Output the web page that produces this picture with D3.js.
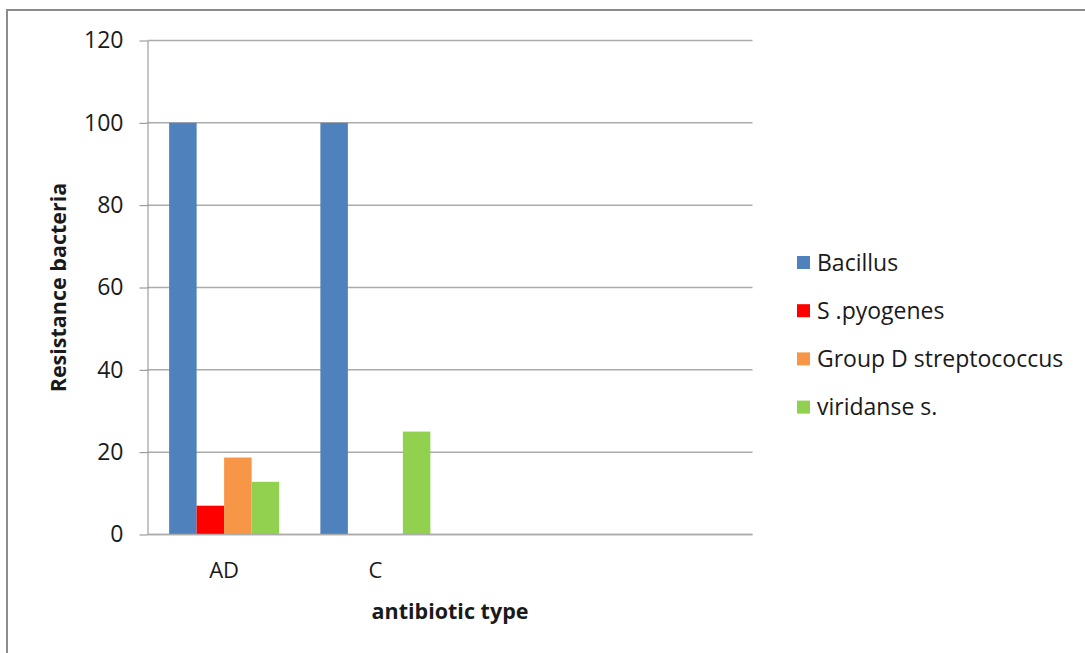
<!DOCTYPE html>
<html>
<head>
<meta charset="utf-8">
<script src="https://cdn.jsdelivr.net/npm/d3@7"></script>
<style>
  html, body { margin: 0; padding: 0; background: #fff; }
  svg { display: block; }
  text { font-family: "Open Sans", "Noto Sans", sans-serif; fill: #1a1a1a; }
</style>
</head>
<body>
<svg id="chart" width="1085" height="653"></svg>
<script>
// Antibiotic categories (the last two slots are empty)
const categories = ["AD", "C", "", ""];
const seriesNames = ["Bacillus", "S .pyogenes", "Group D streptococcus", "viridanse s."];
const seriesColors = ["#4F81BD", "#FF0000", "#F79646", "#92D050"];
// Resistance values per series, one entry per category (null = no bar)
const bacillus = [100, 100, null, null];
const sPyogenes = [7, null, null, null];
const groupD = [18.7, null, null, null];
const viridanse = [12.8, 25, null, null];
const yTicks = [0, 20, 40, 60, 80, 100, 120];

const seriesValues = [bacillus, sPyogenes, groupD, viridanse];

const svg = d3.select("#chart");
const plot = { left: 147.5, right: 752.5, top: 40.5, bottom: 534.5 };

// Outer frame (only top and left edges fall inside the page)
svg.append("rect")
  .attr("x", 7).attr("y", 10)
  .attr("width", 1200).attr("height", 800)
  .attr("fill", "none")
  .attr("stroke", "#8c8c8c")
  .attr("stroke-width", 2);

const x = d3.scaleBand()
  .domain(d3.range(categories.length))
  .range([plot.left, plot.right])
  .paddingInner(0.2727)
  .paddingOuter(0.13635);

const y = d3.scaleLinear().domain([0, 120]).range([plot.bottom, plot.top]);

// Horizontal gridlines
svg.append("g")
  .selectAll("line")
  .data(yTicks)
  .join("line")
  .attr("x1", plot.left).attr("x2", plot.right)
  .attr("y1", d => y(d)).attr("y2", d => y(d))
  .attr("stroke", "#ababab")
  .attr("stroke-width", 1.5);

// Grouped bars
const x1 = d3.scaleBand()
  .domain(d3.range(seriesNames.length))
  .range([0, x.bandwidth()]);

const groups = svg.append("g")
  .selectAll("g")
  .data(categories.map((c, i) => i))
  .join("g")
  .attr("transform", i => `translate(${x(i) + 1},0)`);

groups.selectAll("rect")
  .data(i => seriesValues.map((s, k) => ({ k, v: s[i] })).filter(d => d.v != null))
  .join("rect")
  .attr("x", d => x1(d.k))
  .attr("width", x1.bandwidth())
  .attr("y", d => y(d.v))
  .attr("height", d => y(0) - y(d.v))
  .attr("fill", d => seriesColors[d.k]);

// Y axis
const yAxis = svg.append("g")
  .attr("transform", `translate(${plot.left},0)`)
  .call(d3.axisLeft(y).tickValues(yTicks).tickSize(8).tickPadding(16).tickSizeOuter(0));
yAxis.select(".domain").attr("stroke", "#8a8a8a");
yAxis.selectAll(".tick line").attr("stroke", "#8a8a8a");
yAxis.selectAll(".tick text")
  .attr("font-size", "23px")
  .attr("font-family", "'Open Sans', sans-serif")
  .attr("fill", "#1a1a1a")
  .attr("dy", "0.32em");

// Baseline
svg.append("line")
  .attr("x1", plot.left).attr("x2", plot.right)
  .attr("y1", y(0)).attr("y2", y(0))
  .attr("stroke", "#ababab").attr("stroke-width", 1.7);

// Category labels
svg.append("g")
  .selectAll("text")
  .data(categories.map((c, i) => ({ c, i })))
  .join("text")
  .attr("x", d => x(d.i) + 1 + x.bandwidth() / 2)
  .attr("y", 577.5)
  .attr("text-anchor", "middle")
  .attr("font-size", "22px")
  .text(d => d.c);

// Axis titles
svg.append("text")
  .attr("x", (plot.left + plot.right) / 2)
  .attr("y", 619)
  .attr("text-anchor", "middle")
  .attr("font-size", "21.5px")
  .attr("font-weight", "bold")
  .text("antibiotic type");

svg.append("text")
  .attr("transform", `translate(66,${(plot.top + plot.bottom) / 2}) rotate(-90)`)
  .attr("text-anchor", "middle")
  .attr("font-size", "21.5px")
  .attr("font-weight", "bold")
  .text("Resistance bacteria");

// Legend
const legend = svg.append("g")
  .selectAll("g")
  .data(seriesNames.map((n, k) => ({ n, k })))
  .join("g")
  .attr("transform", d => `translate(797,${263 + d.k * 48.2})`);

legend.append("rect")
  .attr("x", 0).attr("y", -7)
  .attr("width", 13).attr("height", 13)
  .attr("fill", d => seriesColors[d.k]);

legend.append("text")
  .attr("x", 20)
  .attr("y", 7.5)
  .attr("font-size", "23px")
  .text(d => d.n);
</script>
</body>
</html>
